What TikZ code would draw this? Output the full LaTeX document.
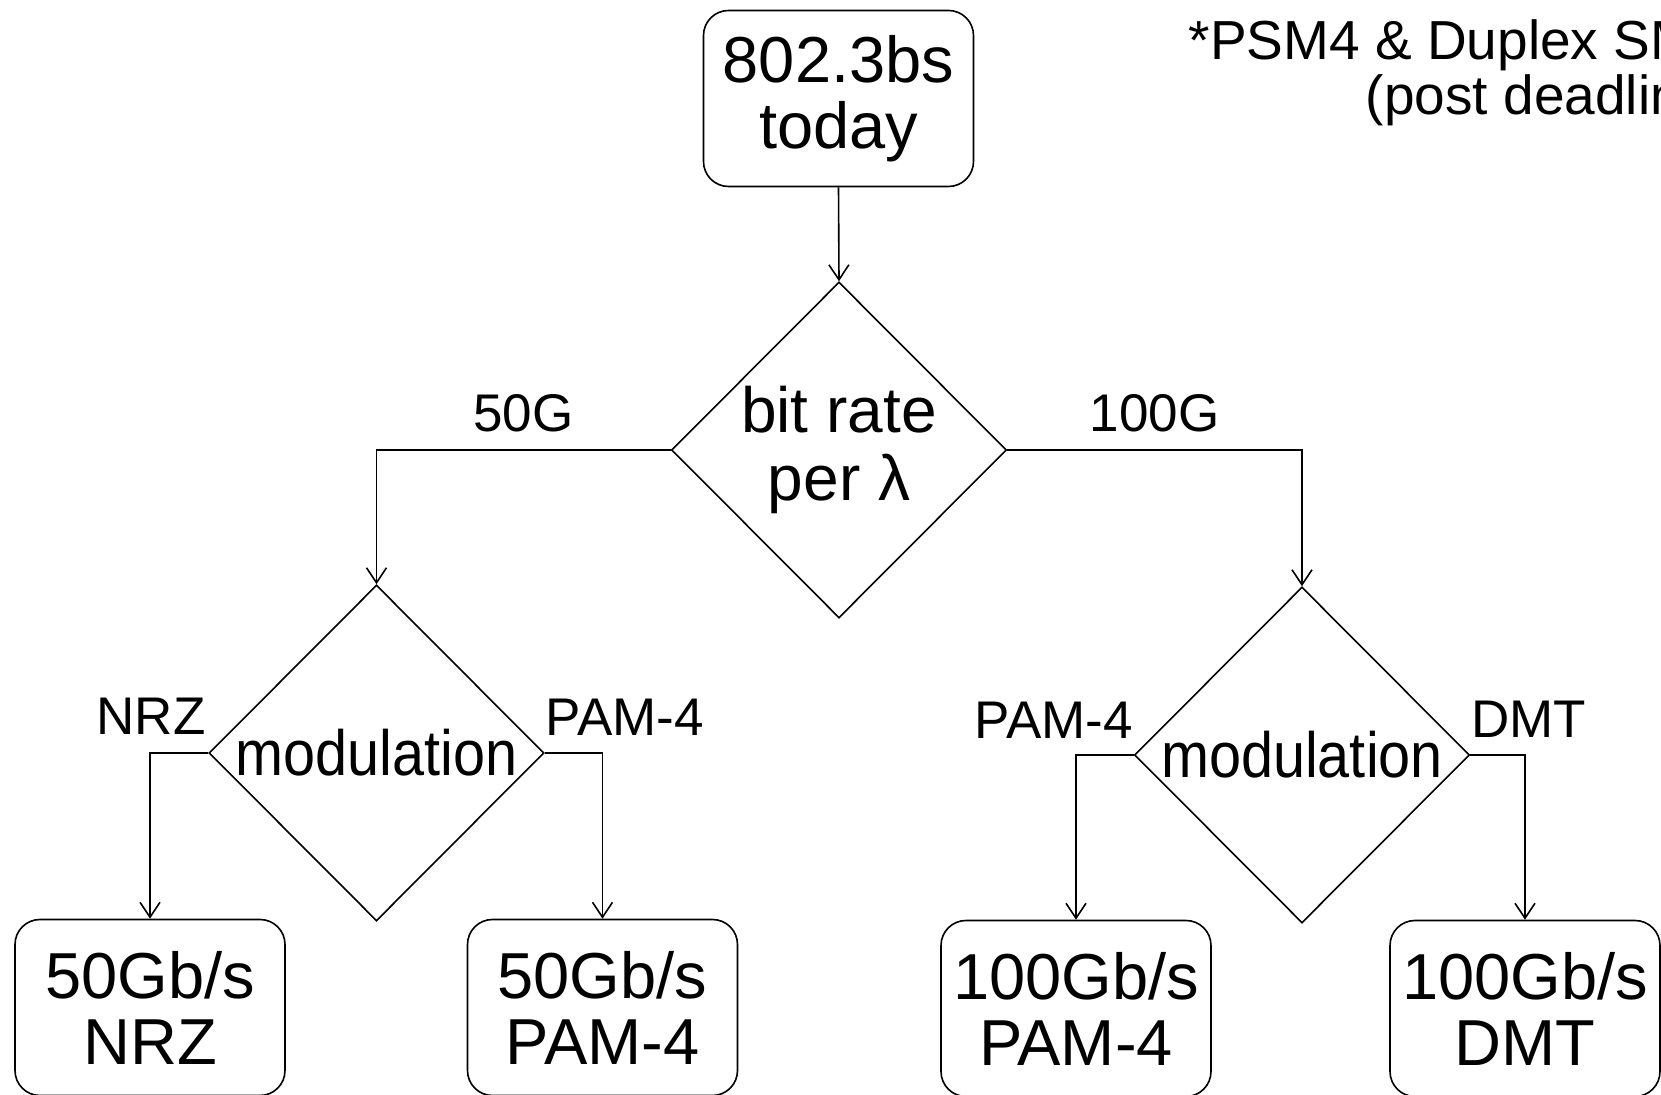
\documentclass[tikz,border=0pt]{standalone}
\usepackage{fontspec}
\setmainfont{Liberation Sans}
\usetikzlibrary{shapes.geometric,arrows.meta,positioning}

\begin{document}
\begin{tikzpicture}[%
    x=0.5pt, y=-0.5pt,
    line width=0.8pt,
    every node/.style={
        inner sep=0pt,
    },
    resultbox/.style={
        draw, rounded corners=12.5pt,
        minimum width=135pt, minimum height=88pt,
        align=center,
        font=\fontsize{32.5}{33}\selectfont,
    },
    decision/.style={
        draw, diamond, aspect=1,
        minimum width=167.5pt, minimum height=168pt,
        align=center,
        font=\fontsize{32}{34}\selectfont,
    },
    branchlabel/.style={
        font=\fontsize{26.5}{26.5}\selectfont,
    },
    flow/.style={-{Straight Barb[length=7.5pt,width=10pt]}},
]
\useasboundingbox (0,0) rectangle (1661,1095);
\clip (0,0) rectangle (1661,1095);

% note in the corner
\node[anchor=north west, align=right, font=\fontsize{27.5}{27.5}\selectfont]
    (note) at (1188,19) {*PSM4 \& Duplex SMF\\(post deadline)};

% start and first decision
\node[resultbox] (today) at (838.5,98.5) {802.3bs\\today};
\node[decision] (rate) at (839,450) {bit rate\\per λ};

% second decisions
\node[decision] (modl) at (376.5,753) {\scalebox{0.9}[1]{modulation}};
\node[decision] (modr) at (1302,755) {\scalebox{0.9}[1]{modulation}};

% results
\node[resultbox] (nrz) at (150,1007.5) {50Gb/s\\NRZ};
\node[resultbox] (pamlo) at (602.5,1007.5) {50Gb/s\\PAM-4};
\node[resultbox] (pamhi) at (1076,1008.5) {100Gb/s\\PAM-4};
\node[resultbox] (dmt) at (1525,1008.5) {100Gb/s\\DMT};

% draw connectors
\draw[flow] (today.south) -- (rate.north);
\draw[flow] (rate.west) -| node[branchlabel, pos=0.25, above=8.5pt] (lbl50) {50G} (modl.north);
\draw[flow] (rate.east) -| node[branchlabel, pos=0.25, above=8.5pt] (lbl100) {100G} (modr.north);
\draw[flow] (modl.west) -| (nrz.north);
\draw[flow] (modl.east) -| (pamlo.north);
\draw[flow] (modr.west) -| (pamhi.north);
\draw[flow] (modr.east) -| (dmt.north);

% labels at the corners of the diamonds
\node[branchlabel, above left=9pt and 1pt of modl.west] (lblnrz) {NRZ};
\node[branchlabel, above right=8.5pt and 0pt of modl.east] (lblpamlo) {PAM-4};
\node[branchlabel, above left=8pt and 0pt of modr.west] (lblpamhi) {PAM-4};
\node[branchlabel, above right=8.5pt and 0pt of modr.east] (lbldmt) {DMT};

\end{tikzpicture}
\end{document}
